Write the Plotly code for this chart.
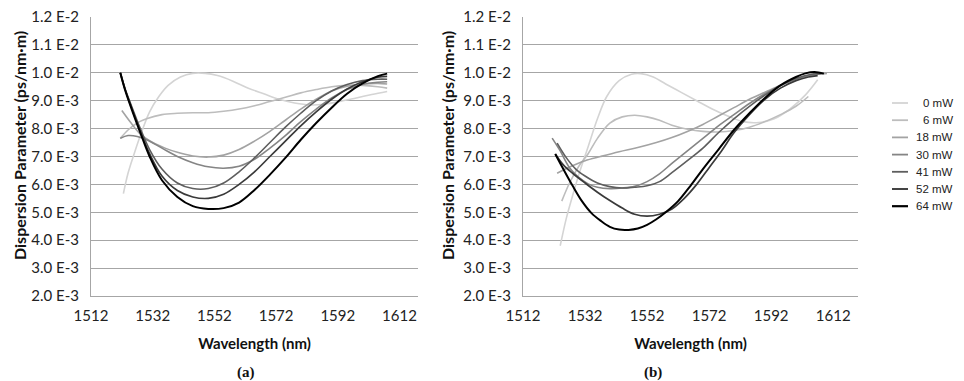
import plotly.graph_objects as go

# ---------------- data (dispersion in units of 1e-3 ps/nm·m) ----------------
series_names = ["0 mW", "6 mW", "18 mW", "30 mW", "41 mW", "52 mW", "64 mW"]
series_colors = ["#d4d4d4", "#bdbdbd", "#a3a3a3", "#858585", "#5e5e5e", "#3a3a3a", "#000000"]
series_widths = [1.6, 1.6, 1.6, 1.6, 1.6, 1.7, 2.0]

# panel (a)
a_x_0 = [1522.5, 1524, 1526, 1528, 1531, 1534, 1537, 1541, 1545, 1549, 1553, 1558, 1563, 1568, 1573, 1578, 1583, 1588, 1593, 1598, 1603, 1608]
a_y_0 = [5.67, 6.4, 7.1, 7.75, 8.6, 9.15, 9.55, 9.85, 9.98, 9.98, 9.9, 9.7, 9.45, 9.25, 9.05, 8.92, 8.85, 8.88, 8.98, 9.1, 9.22, 9.33]
a_x_6 = [1521.5, 1524, 1527, 1530, 1535, 1540, 1545, 1550, 1555, 1560, 1565, 1570, 1575, 1580, 1585, 1590, 1595, 1600, 1605, 1608]
a_y_6 = [7.65, 7.95, 8.2, 8.35, 8.5, 8.55, 8.57, 8.57, 8.62, 8.7, 8.82, 8.97, 9.12, 9.28, 9.4, 9.5, 9.55, 9.55, 9.5, 9.45]
a_x_18 = [1522, 1525, 1528, 1532, 1536, 1540, 1545, 1550, 1555, 1560, 1565, 1570, 1575, 1580, 1585, 1590, 1595, 1600, 1605, 1608]
a_y_18 = [8.65, 8.2, 7.8, 7.5, 7.3, 7.15, 7.02, 6.98, 7.05, 7.25, 7.55, 7.9, 8.3, 8.7, 9.05, 9.35, 9.52, 9.6, 9.62, 9.6]
a_x_30 = [1521.5, 1524, 1527, 1530, 1535, 1540, 1545, 1550, 1555, 1560, 1565, 1570, 1575, 1580, 1585, 1590, 1595, 1600, 1605, 1608]
a_y_30 = [7.65, 7.75, 7.72, 7.6, 7.3, 7.0, 6.78, 6.63, 6.58, 6.65, 6.9, 7.3, 7.75, 8.25, 8.7, 9.1, 9.4, 9.58, 9.66, 9.68]
a_x_41 = [1521.5, 1523, 1525, 1528, 1531, 1535, 1540, 1545, 1550, 1555, 1560, 1565, 1570, 1575, 1580, 1585, 1590, 1595, 1600, 1605, 1608]
a_y_41 = [10.0, 9.45, 8.85, 8.0, 7.25, 6.55, 6.05, 5.85, 5.85, 6.05, 6.45, 6.95, 7.5, 8.05, 8.55, 9.0, 9.35, 9.58, 9.72, 9.77, 9.77]
a_x_52 = [1521.5, 1523, 1525, 1528, 1531, 1535, 1540, 1545, 1550, 1555, 1560, 1565, 1570, 1575, 1580, 1585, 1590, 1595, 1600, 1605, 1608]
a_y_52 = [10.0, 9.42, 8.8, 7.9, 7.1, 6.3, 5.78, 5.55, 5.5, 5.65, 6.0, 6.45, 7.0, 7.55, 8.1, 8.6, 9.05, 9.42, 9.68, 9.84, 9.87]
a_x_64 = [1521.5, 1523, 1525, 1528, 1531, 1535, 1540, 1545, 1550, 1555, 1560, 1565, 1570, 1575, 1580, 1585, 1590, 1595, 1600, 1605, 1608]
a_y_64 = [10.0, 9.4, 8.75, 7.85, 7.0, 6.15, 5.55, 5.22, 5.12, 5.15, 5.35, 5.8, 6.35, 6.95, 7.6, 8.2, 8.75, 9.25, 9.62, 9.88, 9.97]

# panel (b)
b_x_0 = [1524, 1526, 1528, 1530, 1533, 1536, 1539, 1543, 1547, 1550, 1554, 1558, 1563, 1568, 1573, 1578, 1583, 1588, 1593, 1598, 1603, 1607]
b_y_0 = [3.8, 4.8, 5.6, 6.35, 7.35, 8.35, 9.15, 9.72, 9.95, 9.97, 9.85, 9.6, 9.3, 9.0, 8.7, 8.45, 8.25, 8.22, 8.35, 8.7, 9.2, 9.75]
b_x_6 = [1524.5, 1527, 1530, 1533, 1536, 1540, 1544, 1548, 1552, 1556, 1560, 1565, 1570, 1575, 1580, 1585, 1590, 1595, 1600, 1604]
b_y_6 = [5.4, 6.05, 6.65, 7.1, 7.65, 8.2, 8.42, 8.48, 8.42, 8.3, 8.12, 7.98, 7.9, 7.88, 7.93, 8.05, 8.25, 8.5, 8.8, 9.15]
b_x_18 = [1523, 1527, 1532, 1537, 1543, 1549, 1555, 1560, 1565, 1570, 1575, 1580, 1585, 1590, 1595, 1600, 1605, 1610]
b_y_18 = [6.4, 6.62, 6.85, 7.0, 7.17, 7.32, 7.5, 7.68, 7.9, 8.15, 8.45, 8.75, 9.05, 9.3, 9.55, 9.78, 9.92, 9.98]
b_x_30 = [1521.4, 1524, 1527, 1530, 1533, 1536, 1540, 1544, 1548, 1552, 1556, 1560, 1565, 1570, 1575, 1580, 1585, 1590, 1595, 1600, 1605, 1608]
b_y_30 = [7.66, 7.2, 6.6, 6.25, 6.02, 5.9, 5.85, 5.87, 5.93, 6.1, 6.38, 6.75, 7.2, 7.65, 8.1, 8.5, 8.9, 9.25, 9.55, 9.78, 9.92, 9.97]
b_x_41 = [1523, 1526, 1529, 1532, 1536, 1540, 1544, 1548, 1552, 1556, 1560, 1565, 1570, 1575, 1580, 1585, 1590, 1595, 1600, 1605, 1608]
b_y_41 = [7.48, 6.95, 6.55, 6.3, 6.05, 5.92, 5.87, 5.9, 5.95, 6.1, 6.42, 6.85, 7.3, 7.85, 8.35, 8.8, 9.2, 9.55, 9.8, 9.95, 9.98]
b_x_52 = [1522.4, 1525, 1528, 1532, 1536, 1540, 1544, 1548, 1552, 1556, 1560, 1564, 1568, 1572, 1576, 1580, 1585, 1590, 1595, 1600, 1604, 1607]
b_y_52 = [7.09, 6.7, 6.4, 6.05, 5.72, 5.42, 5.15, 4.93, 4.86, 4.93, 5.12, 5.5, 6.0, 6.6, 7.2, 7.85, 8.5, 9.05, 9.45, 9.72, 9.85, 9.9]
b_x_64 = [1522.4, 1525, 1528, 1531, 1534, 1537, 1540, 1543, 1546, 1549, 1552, 1555, 1558, 1562, 1566, 1570, 1575, 1580, 1585, 1590, 1595, 1600, 1603, 1606, 1609]
b_y_64 = [7.09, 6.55, 5.95, 5.4, 4.98, 4.7, 4.48, 4.38, 4.37, 4.42, 4.55, 4.75, 5.0, 5.4, 5.95, 6.55, 7.25, 7.95, 8.55, 9.1, 9.55, 9.85, 9.98, 10.03, 9.97]

panel_a = [(a_x_0, a_y_0), (a_x_6, a_y_6), (a_x_18, a_y_18), (a_x_30, a_y_30),
           (a_x_41, a_y_41), (a_x_52, a_y_52), (a_x_64, a_y_64)]
panel_b = [(b_x_0, b_y_0), (b_x_6, b_y_6), (b_x_18, b_y_18), (b_x_30, b_y_30),
           (b_x_41, b_y_41), (b_x_52, b_y_52), (b_x_64, b_y_64)]

x_tick_vals = [1512, 1532, 1552, 1572, 1592, 1612]
y_tick_vals = [2, 3, 4, 5, 6, 7, 8, 9, 10, 11, 12]
y_tick_text = ["2.0 E-3", "3.0 E-3", "4.0 E-3", "5.0 E-3", "6.0 E-3", "7.0 E-3",
               "8.0 E-3", "9.0 E-3", "1.0 E-2", "1.1 E-2", "1.2 E-2"]

y_title = "Dispersion Parameter (ps/nm·m)"
x_title = "Wavelength (nm)"
panel_labels = ["(a)", "(b)"]

# ---------------- figure ----------------
W, H = 964, 381
fig = go.Figure()

for i in range(len(series_names)):
    for pi, panel in enumerate([panel_a, panel_b]):
        xs, ys = panel[i]
        fig.add_trace(go.Scatter(
            x=xs, y=ys, mode="lines", name=series_names[i],
            line=dict(color=series_colors[i], width=series_widths[i], shape="spline", smoothing=1.0),
            xaxis="x" if pi == 0 else "x2", yaxis="y" if pi == 0 else "y2",
            showlegend=False,
        ))

grid_c = "#a6a6a6"
tick_font = dict(family="Lato, Open Sans, sans-serif", size=15, color="#222")
title_font = dict(family="Lato, Open Sans, sans-serif", size=15, color="#111")
ytitle_font = dict(family="Lato, Open Sans, sans-serif", size=16, color="#111")

def xaxis_cfg(domain, rng, anchor):
    return dict(domain=domain, range=rng, anchor=anchor, tickvals=x_tick_vals,
                showgrid=False, zeroline=False, showline=True, linecolor=grid_c, linewidth=1,
                ticks="", tickfont=tick_font, ticklabelstandoff=6, automargin=False,
                title=dict(text="<b>" + x_title + "</b>", font=title_font, standoff=15))

def yaxis_cfg(domain, anchor):
    return dict(domain=domain, range=[2, 12], anchor=anchor, tickvals=y_tick_vals, ticktext=y_tick_text,
                showgrid=True, gridcolor=grid_c, gridwidth=1, zeroline=False,
                showline=True, linecolor=grid_c, linewidth=1,
                ticks="", tickfont=tick_font, ticklabelstandoff=8, automargin=False)

y_dom = [1 - 296 / H, 1 - 17 / H]
fig.update_layout(
    width=W, height=H,
    margin=dict(l=0, r=0, t=0, b=0),
    paper_bgcolor="white", plot_bgcolor="white",
    showlegend=False,
    xaxis=xaxis_cfg([91 / W, 418 / W], [1512, 1618], "y"),
    yaxis=yaxis_cfg(y_dom, "x"),
    xaxis2=xaxis_cfg([523 / W, 858 / W], [1512, 1620], "y2"),
    yaxis2=yaxis_cfg(y_dom, "x2"),
)

shapes = []
annotations = []

# y-axis titles (rotated), one per panel
for xc in [19, 447]:
    annotations.append(dict(text="<b>" + y_title + "</b>", xref="paper", yref="paper",
                            x=xc / W, y=1 - 146 / H, xanchor="center", yanchor="middle",
                            textangle=-90, showarrow=False, font=ytitle_font))

# manual legend (short line samples, right-aligned labels)
leg_top = 103
leg_step = 17.2
for i, name in enumerate(series_names):
    yc = leg_top + i * leg_step
    yp = 1 - yc / H
    shapes.append(dict(type="line", xref="paper", yref="paper",
                       x0=892 / W, x1=908 / W, y0=yp, y1=yp,
                       line=dict(color=series_colors[i], width=series_widths[i] + 0.2)))
    annotations.append(dict(text=name, xref="paper", yref="paper", x=955 / W, y=yp,
                            xanchor="right", yanchor="middle", showarrow=False,
                            font=dict(family="Liberation Sans, Arial, sans-serif", size=11.5, color="#222")))

for label, xc in zip(panel_labels, [246, 653]):
    annotations.append(dict(text="<b>" + label + "</b>", xref="paper", yref="paper",
                            x=xc / W, y=1 - 372 / H, xanchor="center", yanchor="middle",
                            showarrow=False,
                            font=dict(family="Liberation Serif, Times New Roman, serif", size=15, color="#111")))

fig.update_layout(shapes=shapes, annotations=annotations)
fig.write_html("out.html",
               config={"displayModeBar": False},
               post_script="document.body.style.margin='0';document.body.style.overflow='hidden';")
